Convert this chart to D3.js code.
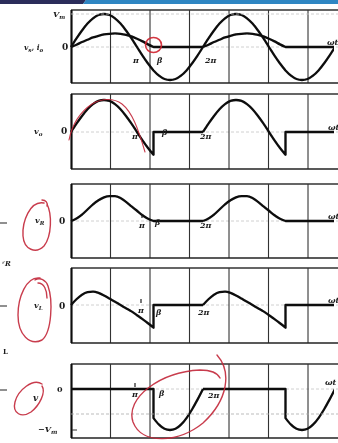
<!DOCTYPE html>
<html><head><meta charset="utf-8">
<script src="https://cdn.jsdelivr.net/npm/d3@7"></script>
<style>
html,body{margin:0;padding:0;background:#fff;overflow:hidden}
svg{display:block}
text{font-family:"DejaVu Serif","Liberation Serif",serif;fill:#1e1e1e;font-weight:bold}
</style></head>
<body>
<script>
// ---- data: one cycle (degrees), angle 225 (beta) repeated for the step ----
const ANGLES = [0,15,30,45,60,75,90,105,120,135,150,165,180,195,210,225,225,240,255,270,285,300,315,330,345,360];
const BETA = 225;
const CYCLES = [0, 360];
const VS = [0,.26,.5,.71,.87,.97,1,.97,.87,.71,.5,.26,0,-.26,-.5,-.71,-.71,-.87,-.97,-1,-.97,-.87,-.71,-.5,-.26,0];
const IO = [0,.07,.15,.22,.29,.34,.38,.40,.41,.40,.37,.32,.25,.17,.08,0,0,0,0,0,0,0,0,0,0,0];
const VO = [0,.26,.5,.71,.87,.97,1,.97,.87,.71,.5,.26,0,-.26,-.5,-.71,0,0,0,0,0,0,0,0,0,0];
const VR = [0,.08,.2,.36,.52,.65,.74,.78,.78,.72,.6,.46,.32,.18,.07,0,0,0,0,0,0,0,0,0,0,0];
const VL = [0,.18,.32,.40,.42,.38,.3,.2,.1,0,-.1,-.2,-.32,-.44,-.57,-.71,0,0,0,0,0,0,0,0,0,0];
const VD = [0,0,0,0,0,0,0,0,0,0,0,0,0,0,0,0,-.71,-.87,-.97,-1,-.97,-.87,-.71,-.5,-.26,0];
const TICK_LABELS = ["π", "β", "2π"];
const OMEGA_T = "ωt";

const W = 338, H = 443;
const svg = d3.select("body").append("svg").attr("width", W).attr("height", H);
const defs = svg.append("defs");
defs.append("filter").attr("id","scan").append("feGaussianBlur").attr("stdDeviation",0.35);
defs.append("clipPath").attr("id","clipx").append("rect").attr("x",70).attr("y",0).attr("width",264).attr("height",H);

svg.append("rect").attr("width",W).attr("height",H).attr("fill","#fff");
// top banner
svg.append("path").attr("d","M0,0H86L83,4H0Z").attr("fill","#2b2d5b");
svg.append("path").attr("d","M86,0H338V4H83Z").attr("fill","#2f86c3");

const g = svg.append("g").attr("filter","url(#scan)");
const x = d3.scaleLinear().domain([0, 360]).range([71, 203]);

const panels = [
  {top:10, bottom:83, zero:47, unit:33, series:[VS, IO]},
  {top:94, bottom:169, zero:132, unit:32, series:[VO]},
  {top:184, bottom:258, zero:221, unit:32, series:[VR]},
  {top:268, bottom:343, zero:305, unit:32, series:[VL]},
  {top:364, bottom:438, zero:389, unit:41, series:[VD]}
];

panels.forEach(p => {
  p.y = d3.scaleLinear().domain([-1, 1]).range([p.zero + p.unit, p.zero - p.unit]);
  const pg = g.append("g");
  pg.append("line").attr("x1",71).attr("x2",338).attr("y1",p.zero).attr("y2",p.zero)
    .attr("stroke","#c4c4c4").attr("stroke-width",0.8).attr("stroke-dasharray","3,2");
  for (let k = 1; k < 7; k++) {
    const gx = 71 + 39.5 * k;
    pg.append("line").attr("x1",gx).attr("x2",gx).attr("y1",p.top).attr("y2",p.bottom)
      .attr("stroke","#333").attr("stroke-width",1.1);
  }
  pg.append("line").attr("x1",71).attr("x2",338).attr("y1",p.top).attr("y2",p.top).attr("stroke","#333").attr("stroke-width",1.3);
  pg.append("line").attr("x1",71).attr("x2",338).attr("y1",p.bottom).attr("y2",p.bottom).attr("stroke","#222").attr("stroke-width",1.6);
  pg.append("line").attr("x1",71.5).attr("x2",71.5).attr("y1",p.top).attr("y2",p.bottom).attr("stroke","#111").attr("stroke-width",2.2);

  const line = d3.line().x(d => d[0]).y(d => d[1]).curve(d3.curveMonotoneX);
  p.series.forEach(vals => {
    CYCLES.forEach(off => {
      const pts = ANGLES.map((a, i) => [x(a + off), p.y(vals[i])]);
      const split = ANGLES.indexOf(BETA) + 1;
      const dA = line(pts.slice(0, split));
      const dB = line(pts.slice(split)).replace(/^M/, "L");
      pg.append("path").attr("d", dA + dB).attr("fill","none").attr("stroke","#0a0a0a")
        .attr("stroke-width",2.3).attr("stroke-linejoin","round").attr("clip-path","url(#clipx)");
    });
  });
});
g.append("line").attr("x1",71).attr("x2",338).attr("y1",414).attr("y2",414)
  .attr("stroke","#aaa").attr("stroke-width",0.8).attr("stroke-dasharray","3,2");
g.append("line").attr("x1",71).attr("x2",338).attr("y1",14).attr("y2",14)
  .attr("stroke","#c4c4c4").attr("stroke-width",0.8).attr("stroke-dasharray","3,2");

// ---- text ----
function txt(xp, yp, s, size, opts) {
  const t = g.append("text").attr("x", xp).attr("y", yp).attr("font-size", size || 9);
  if (opts && opts.italic) t.attr("font-style","italic");
  if (opts && opts.anchor) t.attr("text-anchor", opts.anchor);
  t.text(s);
  return t;
}
function sub(xp, yp, main, s, size) {
  const t = g.append("text").attr("x", xp).attr("y", yp).attr("font-size", size || 9).attr("font-style","italic");
  t.append("tspan").text(main);
  t.append("tspan").attr("font-size", (size||9)*0.7).attr("dy", 2).text(s);
  return t;
}
sub(53, 17, "V", "m", 8);
const t1 = g.append("text").attr("x",24).attr("y",50).attr("font-size",7.5).attr("font-style","italic");
t1.append("tspan").text("v"); t1.append("tspan").attr("font-size",5.5).attr("dy",2).text("s");
t1.append("tspan").attr("dy",-2).text(", i"); t1.append("tspan").attr("font-size",5.5).attr("dy",2).text("o");
txt(62, 50, "0", 9);
const tickY = [[63,63,63],[139,135,139],[228,225,228],[313,315,315],[397,396,398]];
const tickX = [[133,157,205],[132,162,200],[139,155,200],[138,156,198],[132,159,208]];
tickY.forEach((ty, pi) => {
  TICK_LABELS.forEach((lab, j) => txt(tickX[pi][j], ty[j], lab, 8, {italic:true}));
  if (pi >= 2) g.append("line").attr("x1",tickX[pi][0]+3).attr("x2",tickX[pi][0]+3)
    .attr("y1",ty[0]-14).attr("y2",ty[0]-10).attr("stroke","#222").attr("stroke-width",1.2);
});
[[327,45],[328,130],[328,219],[328,303],[325,385]].forEach(([a,b]) => txt(a, b, OMEGA_T, 8, {italic:true}));
sub(34, 134, "v", "o", 8);
txt(61, 134, "0", 9);
sub(35, 223, "v", "R", 8);
txt(59, 224, "0", 9);
sub(34, 308, "v", "L", 8);
txt(59, 309, "0", 9);
txt(33, 401, "v", 9, {italic:true});
txt(57, 392, "0", 8);
const vm = g.append("text").attr("x",38).attr("y",432).attr("font-size",8).attr("font-style","italic");
vm.append("tspan").text("−V"); vm.append("tspan").attr("font-size",6).attr("dy",2).text("m");
g.append("line").attr("x1",72).attr("x2",77).attr("y1",430).attr("y2",430).attr("stroke","#333");
[[0,7,223],[0,7,306],[0,7,390]].forEach(([a,b,c]) => g.append("line").attr("x1",a).attr("x2",b).attr("y1",c).attr("y2",c).attr("stroke","#333").attr("stroke-width",1.1));
txt(2, 266, "ʳR", 7, {italic:true});
txt(3, 354, "L", 7);

// ---- red handwriting ----
const red = svg.append("g").attr("fill","none").attr("stroke","#c3283a").attr("stroke-width",1.4).attr("stroke-linecap","round").attr("opacity",0.9);
red.append("ellipse").attr("cx",153.5).attr("cy",45).attr("rx",8).attr("ry",7.5).attr("stroke-width",1.6).attr("stroke","#d0232f");
red.append("path").attr("d","M69,140 C72,125 80,112 92,104 C102,98 114,98 122,104 C132,112 138,128 145,152").attr("stroke-width",1.1);
red.append("path").attr("d","M44,203 C30,200 22,222 23,236 C24,250 36,254 44,246 C52,236 52,214 47,204 M42,200 C46,200 48,203 47,206");
red.append("path").attr("d","M40,278 C26,276 18,298 18,315 C18,335 30,346 42,340 C52,332 53,300 48,286 C46,280 40,277 35,280 M38,283 C44,283 47,290 47,298");
red.append("path").attr("d","M42,384 C33,378 18,390 15,402 C12,414 22,418 31,412 C40,405 46,392 42,386");
red.append("path").attr("d","M217,355 C232,372 228,400 203,423 C180,442 142,446 133,422 C125,398 160,372 200,370 C212,370 218,374 220,378");
</script>
</body></html>
